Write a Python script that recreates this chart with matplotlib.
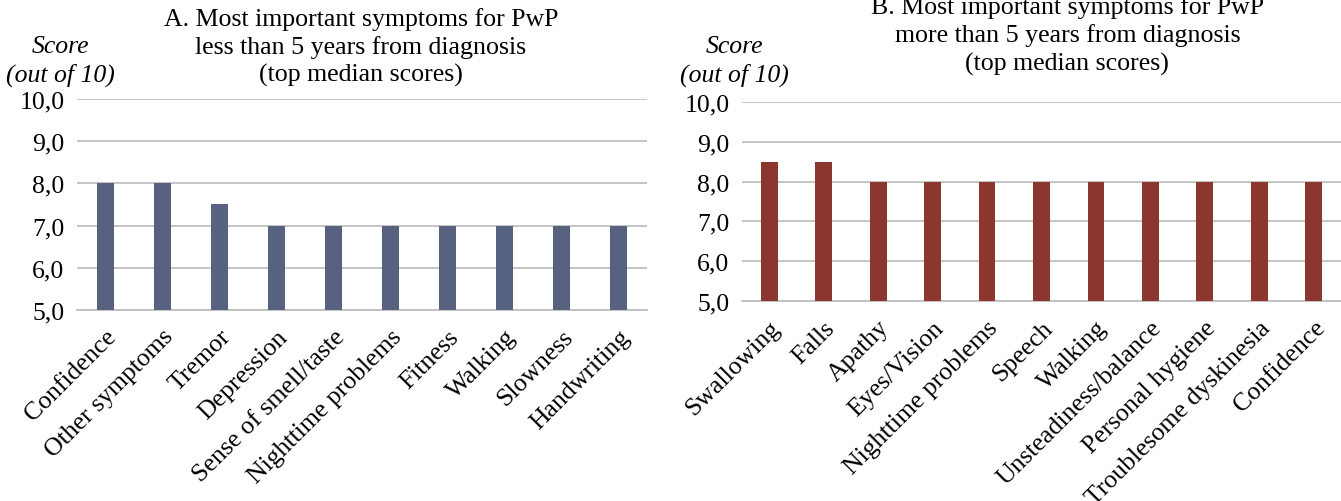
import numpy as np
import matplotlib.pyplot as plt

plt.rcParams['font.family'] = ['Liberation Serif', 'DejaVu Serif']

labels_a = ['Confidence', 'Other symptoms', 'Tremor', 'Depression', 'Sense of smell/taste',
            'Nighttime problems', 'Fitness', 'Walking', 'Slowness', 'Handwriting']
scores_a = [8.0, 8.0, 7.5, 7.0, 7.0, 7.0, 7.0, 7.0, 7.0, 7.0]

labels_b = ['Swallowing', 'Falls', 'Apathy', 'Eyes/Vision', 'Nighttime problems', 'Speech',
            'Walking', 'Unsteadiness/balance', 'Personal hygiene', 'Troublesome dyskinesia',
            'Confidence']
scores_b = [8.5, 8.5, 8.0, 8.0, 8.0, 8.0, 8.0, 8.0, 8.0, 8.0, 8.0]

yticks = [5, 6, 7, 8, 9, 10]

fig = plt.figure(figsize=(13.41, 5.02), dpi=100)
ax_a = fig.add_axes([0.0574, 0.3805, 0.4251, 0.4203])
ax_b = fig.add_axes([0.5533, 0.3984, 0.4467, 0.3964])


def draw(ax, labels, scores, color, title, title_x, title_y, score_x, score_y):
    x = np.arange(len(labels))
    ax.bar(x, scores, width=0.31, color=color, zorder=3)
    ax.set_ylim(5, 10)
    ax.set_xlim(-0.5, len(labels) - 0.5)
    ax.set_yticks(yticks)
    ax.set_yticklabels([('%.1f' % v).replace('.', ',') for v in yticks], fontsize=18.5)
    ax.yaxis.grid(True, color='#BFBFBF', linewidth=1.3, zorder=0)
    ax.set_xticks(x)
    ax.set_xticklabels(labels, rotation=45, ha='right', rotation_mode='anchor', fontsize=18.5)
    ax.tick_params(axis='y', length=0, pad=9)
    ax.tick_params(axis='x', length=0, pad=11)
    for s in ['top', 'right', 'left']:
        ax.spines[s].set_visible(False)
    ax.spines['bottom'].set_color('#BFBFBF')
    ax.spines['bottom'].set_linewidth(1.3)
    fig.text(title_x, title_y, title, ha='center', va='top', fontsize=18.6, linespacing=1.3)
    fig.text(score_x, score_y, 'Score\n(out of 10)', ha='center', va='top', fontsize=18.5,
             style='italic', linespacing=1.3)


draw(ax_a, labels_a, scores_a, '#56627F',
     'A. Most important symptoms for PwP\nless than 5 years from diagnosis\n(top median scores)',
     0.269, 0.985, 0.045, 0.928)
draw(ax_b, labels_b, scores_b, '#8B372E',
     'B. Most important symptoms for PwP\nmore than 5 years from diagnosis\n(top median scores)',
     0.796, 1.008, 0.548, 0.928)

fig.savefig('out.png', dpi=100)
